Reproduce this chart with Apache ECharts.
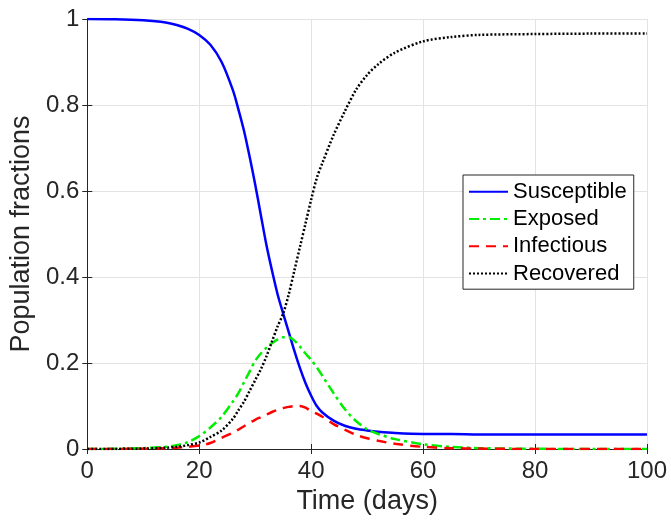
<!DOCTYPE html>
<html>
<head>
<meta charset="utf-8">
<script src="https://cdn.jsdelivr.net/npm/echarts@6/dist/echarts.min.js"></script>
<style>
html,body{margin:0;padding:0;background:#fff;}
#chart{width:671px;height:520px;}
</style>
</head>
<body>
<div id="chart"></div>
<script>
// Time points (days)
var timeDays = [0,5,10,14,16,18,20,22,24,26,27,28,29,30,31,32,33,34,35,36,37,38,39,40,41,42,44,46,48,50,52,55,60,65,70,80,90,100];
// Susceptible
var susceptible = [1.0,0.9995,0.997,0.992,0.986,0.977,0.963,0.94,0.9,0.835,0.79,0.74,0.68,0.615,0.545,0.475,0.415,0.36,0.315,0.272,0.228,0.188,0.153,0.124,0.1,0.085,0.066,0.054,0.047,0.043,0.04,0.037,0.035,0.035,0.034,0.034,0.034,0.034];
// Exposed
var exposed = [0,0.0005,0.002,0.005,0.009,0.016,0.03,0.05,0.075,0.11,0.13,0.155,0.18,0.205,0.222,0.235,0.246,0.255,0.26,0.26,0.252,0.238,0.222,0.207,0.19,0.17,0.13,0.093,0.065,0.046,0.035,0.023,0.011,0.005,0.002,0.0005,0,0];
// Infectious
var infectious = [0,0.0001,0.0006,0.0015,0.003,0.005,0.008,0.014,0.026,0.038,0.045,0.053,0.061,0.068,0.074,0.08,0.086,0.091,0.095,0.098,0.1,0.1,0.096,0.088,0.082,0.075,0.058,0.045,0.033,0.025,0.019,0.012,0.005,0.002,0.001,0,0,0];
// Recovered
var recovered = [0,0.0002,0.001,0.003,0.005,0.009,0.015,0.028,0.043,0.07,0.09,0.11,0.135,0.16,0.185,0.215,0.25,0.285,0.315,0.36,0.415,0.47,0.525,0.58,0.63,0.665,0.73,0.785,0.835,0.87,0.895,0.922,0.948,0.958,0.963,0.965,0.966,0.966];

var seriesNames = ['Susceptible','Exposed','Infectious','Recovered'];
var xTicks = [0,20,40,60,80,100];
var yTicks = [0,0.2,0.4,0.6,0.8,1];

function pairs(arr){ return timeDays.map(function(t,i){ return [t, arr[i]]; }); }

var FONT = '"Liberation Sans", Arial, Helvetica, sans-serif';
var AX = '#262626';

var chart = echarts.init(document.getElementById('chart'), null, {renderer:'canvas'});
chart.setOption({
  animation:false,
  backgroundColor:'#ffffff',
  textStyle:{fontFamily:FONT},
  grid:{left:87,right:24,top:19,bottom:71,containLabel:false},
  legend:{
    orient:'vertical',
    left:463, top:175,
    width:174,
    backgroundColor:'#ffffff',
    borderColor:AX, borderWidth:1, borderRadius:0,
    padding:[3,7,2,5],
    itemWidth:39, itemHeight:14, itemGap:0,
    itemStyle:{opacity:0},
    textStyle:{fontFamily:FONT, fontSize:22, color:'#000', lineHeight:27.3},
    data:seriesNames
  },
  xAxis:[{
    type:'value', min:0, max:100, interval:20,
    name:'Time (days)', nameLocation:'middle', nameGap:37,
    nameTextStyle:{fontFamily:FONT, fontSize:27, color:AX},
    axisLine:{show:true, lineStyle:{color:AX, width:1}},
    axisTick:{show:true, inside:true, length:5, lineStyle:{color:AX}},
    axisLabel:{fontFamily:FONT, fontSize:24, color:AX, margin:10},
    splitLine:{show:true, lineStyle:{color:'#e3e3e3', width:1}}
  },{
    type:'value', min:0, max:100, interval:20, position:'top',
    axisLine:{show:true, lineStyle:{color:AX, width:1}},
    axisTick:{show:true, inside:true, length:5, lineStyle:{color:AX}},
    axisLabel:{show:false}, splitLine:{show:false}
  }],
  yAxis:[{
    type:'value', min:0, max:1, interval:0.2,
    name:'Population fractions', nameLocation:'middle', nameGap:45,
    nameTextStyle:{fontFamily:FONT, fontSize:27, color:AX},
    axisLine:{show:true, lineStyle:{color:AX, width:1}},
    axisTick:{show:true, inside:true, length:5, lineStyle:{color:AX}},
    axisLabel:{fontFamily:FONT, fontSize:24, color:AX, margin:8,
      formatter:function(v){ return String(Math.round(v*10)/10); }},
    splitLine:{show:true, lineStyle:{color:'#e3e3e3', width:1}}
  },{
    type:'value', min:0, max:1, interval:0.2, position:'right',
    axisLine:{show:true, lineStyle:{color:AX, width:1}},
    axisTick:{show:true, inside:true, length:5, lineStyle:{color:AX}},
    axisLabel:{show:false}, splitLine:{show:false}
  }],
  series:[
    {name:'Susceptible', type:'line', data:pairs(susceptible), symbol:'none', smooth:0.3,
     lineStyle:{color:'#0000ff', width:2.5, type:'solid'}, itemStyle:{color:'#0000ff'}},
    {name:'Exposed', type:'line', data:pairs(exposed), symbol:'none', smooth:0.3,
     lineStyle:{color:'#00ee00', width:2.5, type:[10,4,3,4]}, itemStyle:{color:'#00ee00'}},
    {name:'Infectious', type:'line', data:pairs(infectious), symbol:'none', smooth:0.3,
     lineStyle:{color:'#ff0000', width:2.5, type:[10,7]}, itemStyle:{color:'#ff0000'}},
    {name:'Recovered', type:'line', data:pairs(recovered), symbol:'none', smooth:0.3,
     lineStyle:{color:'#000000', width:2.5, type:[2,2]}, itemStyle:{color:'#000000'}}
  ]
});
</script>
</body>
</html>
